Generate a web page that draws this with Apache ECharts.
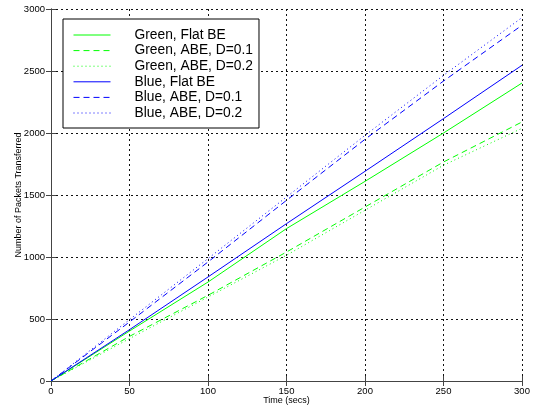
<!DOCTYPE html>
<html>
<head>
<meta charset="utf-8">
<script src="https://cdn.jsdelivr.net/npm/echarts@6/dist/echarts.min.js"></script>
<style>html,body{margin:0;padding:0;background:#fff;}#c{width:533px;height:408px;}</style>
</head>
<body>
<div id="c"></div>
<script>
const times = [0, 50, 100, 150, 200, 250, 300];
const greenFlat = [0, 403, 798, 1229, 1610, 2000, 2403];
const greenAbe01 = [0, 360, 691, 1040, 1403, 1766, 2089];
const greenAbe02 = [0, 342, 677, 1014, 1377, 1740, 2038];
const blueFlat = [0, 414, 839, 1269, 1691, 2116, 2546];
const blueAbe01 = [0, 476, 960, 1457, 1949, 2419, 2869];
const blueAbe02 = [0, 495, 987, 1484, 1981, 2465, 2931];
const seriesNames = ['Green, Flat BE','Green, ABE, D=0.1','Green, ABE, D=0.2','Blue, Flat BE','Blue, ABE, D=0.1','Blue, ABE, D=0.2'];
const xTicks = [0, 50, 100, 150, 200, 250, 300];
const yTicks = [0, 500, 1000, 1500, 2000, 2500, 3000];

const FONT = 'Liberation Sans, Arial, Helvetica, sans-serif';
const pair = arr => times.map((t, i) => [t, arr[i]]);
const mk = (name, data, color, type) => ({
  name, type: 'line', data: pair(data), symbol: 'none', showSymbol: false, smooth: false,
  lineStyle: { color, width: 1, type }, itemStyle: { color },
  emphasis: { disabled: true }, animation: false
});
const axisCommon = {
  axisLine: { show: true, lineStyle: { color: '#444', width: 1 } },
  axisTick: { show: true, inside: true, length: 5, lineStyle: { color: '#444' } },
  splitLine: { show: false }
};
const chart = echarts.init(document.getElementById('c'), null, { renderer: 'canvas' });
chart.setOption({
  animation: false,
  backgroundColor: '#fff',
  grid: { left: 51, right: 11, top: 9, bottom: 27, containLabel: false, outerBoundsMode: 'none' },
  xAxis: [
    Object.assign({}, axisCommon, {
      type: 'value', min: 0, max: 300, interval: 50, position: 'bottom',
      name: 'Time (secs)', nameLocation: 'middle', nameGap: 15, nameMoveOverlap: false,
      nameTextStyle: { fontFamily: FONT, fontSize: 9, color: '#000' },
      axisLabel: { fontFamily: FONT, fontSize: 9.5, color: '#000', margin: 5,
        formatter: v => xTicks.includes(v) ? String(v) : '' },
      splitLine: { show: true, lineStyle: { color: '#111', type: [2, 3], width: 1 } }
    }),
    Object.assign({}, axisCommon, {
      type: 'value', min: 0, max: 300, interval: 50, position: 'top',
      axisLabel: { show: false }
    })
  ],
  yAxis: [
    Object.assign({}, axisCommon, {
      type: 'value', min: 0, max: 3000, interval: 500, position: 'left',
      name: 'Number of Packets Transferred', nameLocation: 'middle', nameGap: 28, nameMoveOverlap: false,
      nameTextStyle: { fontFamily: FONT, fontSize: 9, color: '#000' },
      axisLabel: { fontFamily: FONT, fontSize: 9.5, color: '#000', margin: 6,
        formatter: v => yTicks.includes(v) ? String(v) : '' },
      splitLine: { show: true, lineStyle: { color: '#111', type: [2, 3], width: 1 } }
    }),
    Object.assign({}, axisCommon, {
      type: 'value', min: 0, max: 3000, interval: 500, position: 'right',
      axisLabel: { show: false }
    })
  ],
  legend: {
    show: true, orient: 'vertical', left: 63, top: 19,
    padding: [9, 6, 8, 10],
    backgroundColor: '#fff', borderColor: '#000', borderWidth: 1, borderRadius: 0,
    itemWidth: 37, itemHeight: 12, itemGap: 1.6,
    itemStyle: { opacity: 0 },
    lineStyle: { width: 1 },
    textStyle: { fontFamily: FONT, fontSize: 13.8, lineHeight: 12, color: '#000', padding: [0, 0, 0, 19] },
    data: seriesNames
  },
  series: [
    mk(seriesNames[0], greenFlat, '#00ff00', 'solid'),
    mk(seriesNames[1], greenAbe01, '#00ff00', [6, 4]),
    mk(seriesNames[2], greenAbe02, '#00ff00', [1, 3]),
    mk(seriesNames[3], blueFlat, '#0000ff', 'solid'),
    mk(seriesNames[4], blueAbe01, '#0000ff', [6, 4]),
    mk(seriesNames[5], blueAbe02, '#0000ff', [1, 3])
  ]
});
</script>
</body>
</html>
